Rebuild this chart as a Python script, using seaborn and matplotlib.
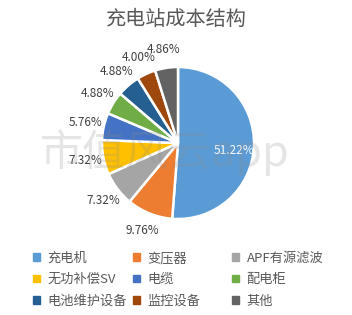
import matplotlib
matplotlib.use("Agg")
import matplotlib.pyplot as plt
import seaborn as sns
import numpy as np

categories = ["充电机", "变压器", "APF有源滤波", "无功补偿SV", "电缆", "配电柜", "电池维护设备", "监控设备", "其他"]
values = [51.22, 9.76, 7.32, 7.32, 5.76, 4.88, 4.88, 4.00, 4.86]
colors = ["#5B9BD5", "#ED7D31", "#A5A5A5", "#FFC000", "#4472C4", "#70AD47", "#255E91", "#9E480E", "#636363"]

sns.set_theme(style="white")
plt.rcParams['font.family'] = ['Noto Sans CJK SC', 'DejaVu Sans']

W, H = 352, 315
fig = plt.figure(figsize=(W / 100, H / 100), dpi=100)
cx, cy, r = 178, 143, 76
ax = fig.add_axes([(cx - r) / W, 1 - (cy + r) / H, 2 * r / W, 2 * r / H])

wedges, texts, autotexts = ax.pie(
    values, colors=sns.color_palette(colors), startangle=90, counterclock=False,
    autopct=lambda p: f"{p:.2f}%", pctdistance=1.24,
    wedgeprops=dict(edgecolor="white", linewidth=1.8),
    textprops=dict(fontsize=8.5, color="#404040"))
ax.set_xlim(-1, 1)
ax.set_ylim(-1, 1)
ax.set_aspect("equal")

# big slice label inside, white
ang = np.deg2rad(-8)
autotexts[0].set_position((0.75 * np.cos(ang), 0.75 * np.sin(ang)))
autotexts[0].set_color("white")

fig.text(0.5, 1 - 19 / H, "充电站成本结构", ha="center", va="center", fontsize=14.5, color="#595959")

# watermark
fig.text(165 / W, 1 - 153 / H, "市值风云app", ha="center", va="center", fontsize=31,
         color="#8c8c8c", alpha=0.22, zorder=10)

# legend: 3 columns, row-major order
col_x = [33, 133, 232]
for c in range(3):
    idx = [c, c + 3, c + 6]
    handles = [plt.Rectangle((0, 0), 1, 1, color=colors[i]) for i in idx]
    labels = [categories[i] for i in idx]
    leg = fig.legend(handles, labels, loc="upper left", bbox_to_anchor=(col_x[c] / W, 1 - 252 / H),
                     ncol=1, frameon=False, fontsize=9.5, handlelength=0.55, handleheight=0.55,
                     handletextpad=0.55, labelspacing=0.62, borderpad=0, borderaxespad=0)
    for t in leg.get_texts():
        t.set_color("#595959")

fig.savefig("out.png", dpi=100, facecolor="white")
